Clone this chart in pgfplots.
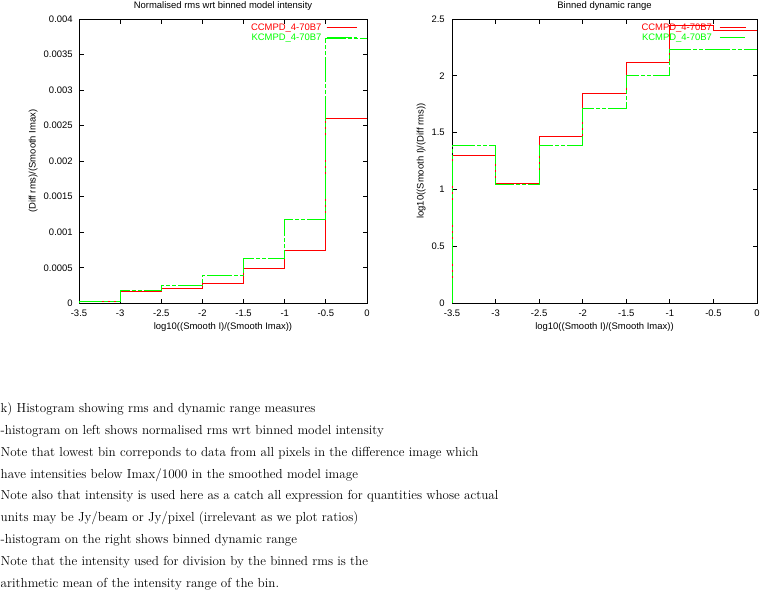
\documentclass[border=0pt]{standalone}
\usepackage{fontspec}
\newfontfamily\gpfont{Liberation Sans}
\usepackage{pgfplots}
\pgfplotsset{compat=1.18}

\definecolor{gpred}{RGB}{255,0,0}
\definecolor{gpgreen}{RGB}{0,255,0}
\newcommand\gpsize{\gpfont\fontsize{9.5}{11}\selectfont}

% gnuplot look: box border, inside ticks on all sides, sans labels
\pgfplotsset{
  gpbox/.style={
    scale only axis,
    height=284.3bp,
    xmin=-3.5, xmax=0,
    xtick={-3.5,-3,-2.5,-2,-1.5,-1,-0.5,0},
    axis line style={line width=1bp},
    tick style={line width=0.8bp, black},
    tick align=inside,
    major tick length=4.5bp,
    /pgf/number format/assume math mode=true,
    ticklabel style={font=\gpsize},
    xticklabel style={anchor=base, yshift=-13.4bp},
    title style={font=\gpsize, anchor=base, at={(axis description cs:0.5,1)}, yshift=4.5bp},
    xlabel style={font=\gpsize, anchor=base, at={(axis description cs:0.5,0)}, yshift=-26bp},
    ylabel style={font=\gpsize, anchor=base},
    legend cell align=right,
    legend plot pos=right,
    legend style={draw=none, fill=none, at={(1,1)}, anchor=north east,
      inner sep=0pt, outer sep=0pt, row sep=0pt, font=\gpsize,
      nodes={inner sep=0pt, text height=7bp, text depth=3bp}},
    every axis plot/.append style={line width=1bp, const plot},
  },
  gpdash/.style={dash pattern=on 25bp off 2bp on 4bp off 2bp on 4bp off 2bp},
}

\begin{document}
\begin{tikzpicture}
\useasboundingbox (0,0) rectangle (760bp,-599bp);

% left: normalised rms
\begin{axis}[gpbox,
    at={(79bp,-303.3bp)}, anchor=south west,
    width=288bp,
    ymin=0, ymax=0.004,
    ytick={0,0.0005,0.001,0.0015,0.002,0.0025,0.003,0.0035,0.004},
    scaled y ticks=false,
    yticklabel style={/pgf/number format/fixed, /pgf/number format/precision=4, xshift=-2.8bp},
    title={Normalised rms wrt binned model intensity},
    xlabel={log10((Smooth I)/(Smooth Imax))},
    ylabel={(Diff rms)/(Smooth Imax)},
    ylabel style={at={([xshift=-43.5bp]axis description cs:0,0.5)}},
    legend style={xshift=-10bp, yshift=-4.7bp, column sep=4.5bp},
    legend image code/.code={\draw[#1] (0bp,1.2bp) -- (30bp,1.2bp);},
  ]
  \addplot[color=gpred] coordinates {(-3.5,0) (-3.5,0.000025) (-3,0.000164) (-2.5,0.00021)
    (-2,0.00028) (-1.5,0.00049) (-1,0.000745) (-0.5,0.0026) (0,0.0026)};
  \addlegendentry{\textcolor{gpred}{CCMPD\_4-70B7}}
  \addplot[color=gpgreen, gpdash] coordinates {(-3.5,0) (-3.5,0.000025) (-3,0.000183) (-2.5,0.000253)
    (-2,0.000393) (-1.5,0.000632) (-1,0.00118) (-0.5,0.00373) (0,0.00373)};
  \addlegendentry{\textcolor{gpgreen}{KCMPD\_4-70B7}}
\end{axis}

% right: dynamic range
\begin{axis}[gpbox,
    at={(452bp,-303.3bp)}, anchor=south west,
    width=305bp,
    ymin=0, ymax=2.5,
    ytick={0,0.5,1,1.5,2,2.5},
    yticklabel style={xshift=-3.8bp},
    title={Binned dynamic range},
    xlabel={log10((Smooth I)/(Smooth Imax))},
    ylabel={log10((Smooth I)/(Diff rms))},
    ylabel style={at={([xshift=-28.5bp]axis description cs:0,0.5)}},
    legend style={xshift=-11bp, yshift=-4.7bp, column sep=7bp},
    legend image code/.code={\draw[#1] (0bp,1.2bp) -- (26bp,1.2bp);},
  ]
  \addplot[color=gpred] coordinates {(-3.5,0) (-3.5,1.30) (-3,1.057) (-2.5,1.467)
    (-2,1.841) (-1.5,2.117) (-1,2.44) (-0.5,2.395) (0,2.395)};
  \addlegendentry{\textcolor{gpred}{CCMPD\_4-70B7}}
  \addplot[color=gpgreen, gpdash] coordinates {(-3.5,0) (-3.5,1.388) (-3,1.045) (-2.5,1.388)
    (-2,1.712) (-1.5,2.002) (-1,2.235) (-0.5,2.235) (0,2.235)};
  \addlegendentry{\textcolor{gpgreen}{KCMPD\_4-70B7}}
\end{axis}

% caption text below the plots
\begin{scope}[every node/.style={anchor=base west, inner sep=0pt, font=\fontsize{13.15}{16}\selectfont}]
\node at (0.5bp,-412.3bp) {k) Histogram showing rms and dynamic range measures};
\node at (0.5bp,-434.2bp) {-histogram on left shows normalised rms wrt binned model intensity};
\node at (0.5bp,-456.1bp) {Note that lowest bin correponds to data from all pixels in the difference image which};
\node at (0.5bp,-478.0bp) {have intensities below Imax/1000 in the smoothed model image};
\node at (0.5bp,-499.9bp) {Note also that intensity is used here as a catch all expression for quantities whose actual};
\node at (0.5bp,-521.8bp) {units may be Jy/beam or Jy/pixel (irrelevant as we plot ratios)};
\node at (0.5bp,-543.7bp) {-histogram on the right shows binned dynamic range};
\node at (0.5bp,-565.6bp) {Note that the intensity used for division by the binned rms is the};
\node at (0.5bp,-587.5bp) {arithmetic mean of the intensity range of the bin.};
\end{scope}
\end{tikzpicture}
\end{document}
